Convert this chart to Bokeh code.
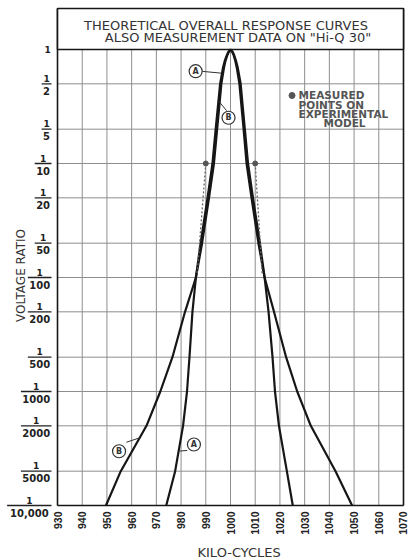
import math
from bokeh.plotting import figure
from bokeh.models import Range1d, FixedTicker, ColumnDataSource, LabelSet, Label, Title
from bokeh.embed import file_html
from bokeh.resources import INLINE
from bokeh.core.properties import value

# ---------------- data ----------------
x_ticks = [930, 940, 950, 960, 970, 980, 990, 1000, 1010, 1020, 1030, 1040, 1050, 1060, 1070]
y_ticks = [1, 1/2, 1/5, 1/10, 1/20, 1/50, 1/100, 1/200, 1/500, 1/1000, 1/2000, 1/5000, 1/10000]
y_numerators = ["1", "1", "1", "1", "1", "1", "1", "1", "1", "1", "1", "1", "1"]
y_denominators = ["", "2", "5", "10", "20", "50", "100", "200", "500", "1000", "2000", "5000", "10,000"]

# voltage ratio levels used to trace the curves (left foot -> peak -> right foot)
curve_ratio = [0.0001, 0.0002, 0.0005, 0.001, 0.002, 0.005, 0.01, 0.02, 0.05, 0.1, 0.2, 0.5, 0.7, 0.8, 0.9, 0.95,
               1.0,
               0.95, 0.9, 0.8, 0.7, 0.5, 0.2, 0.1, 0.05, 0.02, 0.01, 0.005, 0.002, 0.001, 0.0005, 0.0002, 0.0001]
curve_a_kc = [974.0, 977.6, 980.8, 982.4, 983.4, 984.6, 986.0, 987.9, 990.7, 992.7, 994.0, 995.8, 997.0, 997.7, 998.6, 999.1,
              1000.0,
              1000.9, 1001.4, 1002.2, 1002.9, 1004.1, 1005.8, 1007.1, 1009.1, 1011.9, 1013.8, 1015.4, 1017.0, 1018.0, 1019.6, 1022.8, 1025.2]
curve_b_kc = [949.6, 955.6, 966.0, 971.6, 976.5, 981.6, 986.0, 988.5, 991.3, 993.3, 994.6, 996.3, 997.4, 998.0, 998.8, 999.3,
              1000.0,
              1000.7, 1001.2, 1001.9, 1002.5, 1003.6, 1005.3, 1006.5, 1008.5, 1011.3, 1013.8, 1017.6, 1022.5, 1027.0, 1032.5, 1042.5, 1049.2]

# measured points on experimental model, with dashed runs down to the curves
meas_kc = [990, 1010]
meas_ratio = [0.1, 0.1]
meas_end_kc = [986.5, 1012.8]
meas_end_ratio = [0.0108, 0.0108]

# curve tags (circled letters) and their leader lines
tag_text = ["A", "B", "B", "A"]
tag_kc = [985.9, 999.2, 954.9, 985.2]
tag_ratio = [0.645, 0.252, 0.000299, 0.000343]
leader_x0 = [988.6, 998.4, 957.9, 982.5]
leader_y0 = [0.643, 0.291, 0.000359, 0.000304]
leader_x1 = [996.3, 995.6, 963.2, 979.4]
leader_y1 = [0.62, 0.345, 0.000392, 0.0003]

title_lines = ["THEORETICAL OVERALL RESPONSE CURVES", "ALSO MEASUREMENT DATA ON \"Hi-Q 30\""]
legend_lines = ["MEASURED", "POINTS ON", "EXPERIMENTAL", "MODEL"]
x_title = "KILO-CYCLES"
y_title = "VOLTAGE RATIO"

# ---------------- layout constants ----------------
PX_PER_KC = 2.471
PX_PER_DECADE = 114.0
LEFT_PX = 57      # label column left of the grid
RIGHT_PX = 7
TOP_PX = 49       # title box area above ratio 1
BOX_PX = 41
BOTTOM_PX = 14    # room for the last denominator

x_lo, x_hi = x_ticks[0], x_ticks[-1]
y_hi, y_lo = y_ticks[0], y_ticks[-1]
x_range = Range1d(x_lo - LEFT_PX / PX_PER_KC, x_hi + RIGHT_PX / PX_PER_KC)
y_range = Range1d(y_lo * 10 ** (-BOTTOM_PX / PX_PER_DECADE), y_hi * 10 ** (TOP_PX / PX_PER_DECADE))
box_top = y_hi * 10 ** (BOX_PX / PX_PER_DECADE)
frame_w = int(round((x_hi - x_lo) * PX_PER_KC + LEFT_PX + RIGHT_PX))
frame_h = int(round(math.log10(y_hi / y_lo) * PX_PER_DECADE + TOP_PX + BOTTOM_PX))
TOTAL_H = 558

INK = "#161616"
GRID = "#8e8e8e"
GREY_TXT = "#555555"

p = figure(frame_width=frame_w, frame_height=frame_h,
           x_range=x_range, y_range=y_range, y_axis_type="log",
           y_axis_location=None, output_backend="svg", toolbar_location=None,
           min_border_left=0, min_border_right=0, min_border_top=0,
           min_border_bottom=TOTAL_H - frame_h)
p.outline_line_color = None
p.grid.visible = False
p.background_fill_color = "white"
p.border_fill_color = "white"

# ---------------- grid ----------------
p.segment(x0=x_ticks, x1=x_ticks, y0=[y_lo] * len(x_ticks), y1=[y_hi] * len(x_ticks),
          line_color=GRID, line_width=1)
p.segment(x0=[x_lo] * len(y_ticks), x1=[x_hi] * len(y_ticks), y0=y_ticks, y1=y_ticks,
          line_color=GRID, line_width=1)

# frame borders + title box
p.segment(x0=[x_lo, x_hi, x_lo], x1=[x_lo, x_hi, x_hi], y0=[y_lo, y_lo, y_lo], y1=[box_top, box_top, y_lo],
          line_color=INK, line_width=1.6)
p.quad(left=[x_lo], right=[x_hi], bottom=[y_hi], top=[box_top], fill_color="white",
       line_color=INK, line_width=1.6)

# ---------------- curves ----------------
p.line(curve_a_kc, curve_ratio, line_color=INK, line_width=2.2)
p.line(curve_b_kc, curve_ratio, line_color=INK, line_width=2.2)

# measured points
p.segment(x0=meas_kc, y0=meas_ratio, x1=meas_end_kc, y1=meas_end_ratio,
          line_color="#666666", line_width=1.3, line_dash="2 2")
p.scatter(meas_kc, meas_ratio, size=5, color="#555555")

# tags
p.segment(x0=leader_x0, y0=leader_y0, x1=leader_x1, y1=leader_y1, line_color="#333333", line_width=1)
p.scatter(tag_kc, tag_ratio, size=13, marker="circle", fill_color="white", line_color="#333333", line_width=1.2)
p.text(tag_kc, tag_ratio, text=tag_text, text_align="center", text_baseline="middle",
       text_font=value("DejaVu Sans"), text_font_size="8px", text_font_style="bold", text_color="#333333")

# ---------------- y tick labels (stacked fractions) ----------------
CH_W = 6.9
GAP = 6
frac_y, frac_den, bar_x0, bar_x1, num_off, single_y, single_txt = [], [], [], [], [], [], []
for yv, nu, de in zip(y_ticks, y_numerators, y_denominators):
    if de == "":
        single_y.append(yv)
        single_txt.append(nu)
        continue
    w = CH_W * len(de) + 3
    frac_y.append(yv)
    frac_den.append(de)
    bar_x0.append(x_lo - (GAP + w) / PX_PER_KC)
    bar_x1.append(x_lo - GAP / PX_PER_KC)
    num_off.append(-(GAP + w / 2.0))
p.segment(x0=bar_x0, x1=bar_x1, y0=frac_y, y1=frac_y, line_color="#222222", line_width=1.3)

num_src = ColumnDataSource(dict(x=[x_lo] * len(frac_y), y=frac_y, t=["1"] * len(frac_y), xo=num_off))
den_src = ColumnDataSource(dict(x=[x_lo] * len(frac_y), y=frac_y, t=frac_den, xo=num_off))
p.add_layout(LabelSet(x="x", y="y", text="t", source=num_src, x_offset="xo", y_offset=2,
                      text_align="center", text_baseline="bottom", text_font=value("DejaVu Sans"),
                      text_font_size="9px", text_font_style="bold", text_color="#222222"))
p.add_layout(LabelSet(x="x", y="y", text="t", source=den_src, x_offset="xo", y_offset=-3,
                      text_align="center", text_baseline="top", text_font=value("DejaVu Sans"),
                      text_font_size="10px", text_font_style="bold", text_color="#222222"))
one_src = ColumnDataSource(dict(x=[x_lo] * len(single_y), y=single_y, t=single_txt))
p.add_layout(LabelSet(x="x", y="y", text="t", source=one_src, x_offset=-10, y_offset=0,
                      text_align="center", text_baseline="middle", text_font=value("DejaVu Sans"),
                      text_font_size="9px", text_font_style="bold", text_color="#222222"))

p.add_layout(Label(x=x_lo, y=y_hi * 10 ** (-(275 - 49) / PX_PER_DECADE), x_offset=-37, text=y_title,
                   angle=math.pi / 2, text_align="center", text_baseline="middle",
                   text_font="DejaVu Sans", text_font_size="12px", text_color="#333333"))

# ---------------- x axis ----------------
ax = p.xaxis[0]
ax.ticker = FixedTicker(ticks=x_ticks)
ax.major_label_orientation = math.pi / 2
ax.axis_line_color = None
ax.major_tick_line_color = None
ax.minor_tick_line_color = None
ax.major_tick_in = 0
ax.major_tick_out = 0
ax.minor_tick_in = 0
ax.minor_tick_out = 0
ax.major_label_standoff = -(BOTTOM_PX - 6)
ax.major_label_text_font = "Liberation Sans"
ax.major_label_text_font_style = "bold"
ax.major_label_text_font_size = "10.5px"
ax.major_label_text_color = "#222222"

p.add_layout(Title(text=x_title, align="left", offset=239 - 42, standoff=10,
                   text_font="DejaVu Sans", text_font_size="13px", text_font_style="normal",
                   text_color="#333333"), "below")

# ---------------- title ----------------
p.add_layout(Label(x=1000, y=y_hi, x_offset=-4.5, y_offset=24.5, text=title_lines[0],
                   text_align="center", text_baseline="middle",
                   text_font="DejaVu Sans", text_font_size="13px", text_color="#333333"))
p.add_layout(Label(x=1000, y=y_hi, x_offset=7.5, y_offset=12, text=title_lines[1],
                   text_align="center", text_baseline="middle",
                   text_font="DejaVu Sans", text_font_size="13px", text_color="#333333"))

# ---------------- legend note ----------------
leg_x, leg_y = 930 + 241 / PX_PER_KC, 0.395
p.scatter([leg_x - 6.5 / PX_PER_KC], [leg_y], size=6, color="#555555")
for i, t in enumerate(legend_lines[:3]):
    p.add_layout(Label(x=leg_x, y=leg_y, y_offset=-9.5 * i, text=t, text_align="left", text_baseline="middle",
                       text_font="DejaVu Sans", text_font_size="10.5px", text_font_style="bold",
                       text_color=GREY_TXT))
p.add_layout(Label(x=leg_x, y=leg_y, x_offset=46, y_offset=-28, text=legend_lines[3], text_align="center",
                   text_baseline="middle", text_font="DejaVu Sans", text_font_size="10.5px",
                   text_font_style="bold", text_color=GREY_TXT))

open("out.html", "w").write(file_html(p, INLINE))
